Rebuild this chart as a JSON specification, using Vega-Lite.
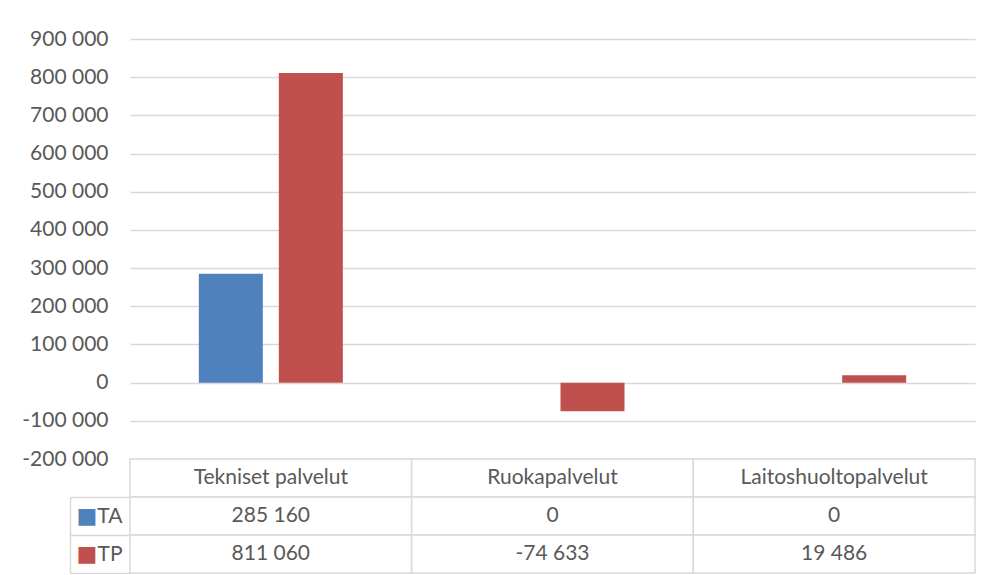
{
  "$schema": "https://vega.github.io/schema/vega-lite/v6.json",
  "background": "white",
  "padding": {"left": 21, "top": 28, "right": 10, "bottom": 0},
  "data": {"values": [
    {"category": "Tekniset palvelut", "series": "TA", "value": 285160},
    {"category": "Tekniset palvelut", "series": "TP", "value": 811060},
    {"category": "Ruokapalvelut", "series": "TA", "value": 0},
    {"category": "Ruokapalvelut", "series": "TP", "value": -74633},
    {"category": "Laitoshuoltopalvelut", "series": "TA", "value": 0},
    {"category": "Laitoshuoltopalvelut", "series": "TP", "value": 19486}
  ]},
  "spacing": 0,
  "bounds": "flush",
  "vconcat": [
    {
      "width": 845,
      "height": 420,
      "mark": {"type": "bar"},
      "encoding": {
        "x": {"field": "category", "type": "nominal", "sort": null,
              "scale": {"domain": ["Tekniset palvelut", "Ruokapalvelut", "Laitoshuoltopalvelut"], "paddingInner": 0, "paddingOuter": 0},
              "axis": null},
        "xOffset": {"field": "series", "type": "nominal",
                    "scale": {"domain": ["TA", "TP"], "paddingInner": 0.2, "paddingOuter": 0.86}},
        "y": {"field": "value", "type": "quantitative",
              "scale": {"domain": [-200000, 900000], "nice": false, "zero": false},
              "axis": {"values": [-200000, -100000, 0, 100000, 200000, 300000, 400000, 500000, 600000, 700000, 800000, 900000],
                       "format": ",d", "title": null, "domain": false, "ticks": false,
                       "labelPadding": 22, "gridColor": "#D9D9D9", "gridWidth": 1.5}},
        "color": {"field": "series", "type": "nominal",
                  "scale": {"domain": ["TA", "TP"], "range": ["#4F81BD", "#C0504D"]},
                  "legend": null}
      }
    },
    {
      "width": 845,
      "height": 114,
      "resolve": {"scale": {"y": "independent"}, "axis": {"y": "independent"}},
      "encoding": {
        "x": {"field": "category", "type": "nominal", "sort": null,
              "scale": {"domain": ["Tekniset palvelut", "Ruokapalvelut", "Laitoshuoltopalvelut"], "paddingInner": 0, "paddingOuter": 0},
              "axis": null}
      },
      "layer": [
        {
          "transform": [{"filter": "datum.series == 'TA'"}],
          "mark": {"type": "rect", "fill": "white", "stroke": "#D9D9D9", "strokeWidth": 1.5},
          "encoding": {
            "y": {"datum": "H", "type": "nominal", "scale": {"domain": ["H", "TA", "TP"], "paddingInner": 0, "paddingOuter": 0}, "axis": null}
          }
        },
        {
          "transform": [{"filter": "datum.series == 'TA'"}],
          "mark": {"type": "text", "color": "#595959", "fontSize": 21, "font": "Lato"},
          "encoding": {
            "y": {"datum": "H", "type": "nominal", "scale": {"domain": ["H", "TA", "TP"], "paddingInner": 0, "paddingOuter": 0}, "axis": null},
            "text": {"field": "category", "type": "nominal"}
          }
        },
        {
          "mark": {"type": "rect", "fill": "white", "stroke": "#D9D9D9", "strokeWidth": 1.5},
          "encoding": {
            "y": {"field": "series", "type": "nominal", "scale": {"domain": ["H", "TA", "TP"], "paddingInner": 0, "paddingOuter": 0},
                  "axis": {"orient": "left", "values": ["TA", "TP"], "title": null, "domain": false, "grid": false,
                           "ticks": true, "tickBand": "extent", "tickSize": 60, "tickColor": "#D9D9D9", "tickWidth": 1.5,
                           "labelPadding": -52, "labelColor": "#595959", "labelFontSize": 21, "labelFont": "Lato"}}
          }
        },
        {
          "mark": {"type": "text", "color": "#595959", "fontSize": 21, "font": "Lato"},
          "encoding": {
            "y": {"field": "series", "type": "nominal", "scale": {"domain": ["H", "TA", "TP"], "paddingInner": 0, "paddingOuter": 0}, "axis": null},
            "text": {"field": "value", "type": "quantitative", "format": ",d"}
          }
        },
        {
          "mark": {"type": "rect", "opacity": 0},
          "encoding": {
            "y": {"field": "series", "type": "nominal", "scale": {"domain": ["TA", "TP"], "range": [38, 114], "paddingInner": 0, "paddingOuter": 0},
                  "axis": {"orient": "left", "offset": 60, "title": null, "domain": true, "domainColor": "#D9D9D9", "domainWidth": 1.5,
                           "ticks": false, "tickSize": 0, "grid": false,
                           "labelExpr": "'■'", "labelAlign": "left", "labelPadding": -6,
                           "labelFont": "DejaVu Sans", "labelFontSize": 22,
                           "labelColor": {"condition": {"test": "datum.value == 'TA'", "value": "#4F81BD"}, "value": "#C0504D"}}}
          }
        }
      ]
    }
  ],
  "config": {
    "view": {"stroke": null},
    "locale": {"number": {"decimal": ",", "thousands": " ", "grouping": [3], "currency": ["", " €"], "minus": "-"}},
    "axis": {"labelFont": "Lato", "labelFontSize": 21, "labelColor": "#595959"},
    "text": {"font": "Lato"}
  }
}
